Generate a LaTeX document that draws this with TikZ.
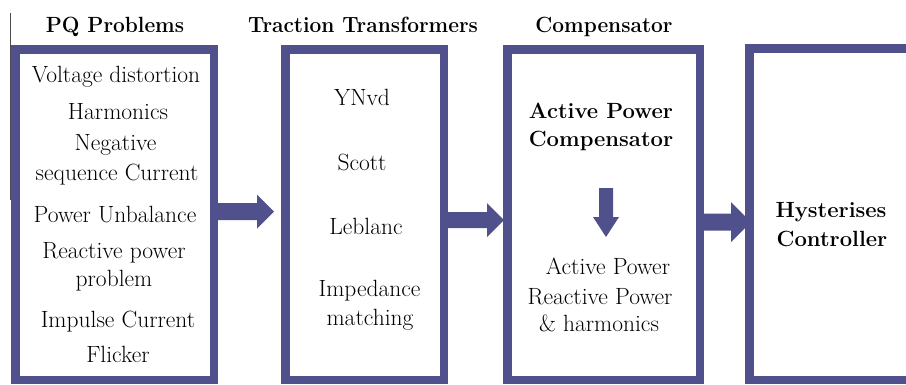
\documentclass[tikz,border=0pt]{standalone}
\usepackage{graphicx}
\usetikzlibrary{calc}
\definecolor{pqblue}{RGB}{80,80,140}
\newcommand{\bxs}[1]{\scalebox{0.95}[1]{#1}}
% #1 start anchor, #2 end anchor, #3 y, #4 shaft half, #5 head half, #6 head length, #7 tip offset
\newcommand{\fatarrow}[7]{%
  \fill[pqblue] let \p1=(#1 |- 0,#3), \p2=(#2) in
    (\x1,\y1+#4) -- (\x2+#7-#6,\y1+#4) -- (\x2+#7-#6,\y1+#5) -- (\x2+#7,\y1)
    -- (\x2+#7-#6,\y1-#5) -- (\x2+#7-#6,\y1-#4) -- (\x1,\y1-#4) -- cycle;}
\begin{document}
\begin{tikzpicture}[x=1pt,y=-1pt,
  blk/.style={draw=pqblue, line width=8.5pt, fill=white, rectangle, inner sep=0pt, outer sep=0pt},
  txt/.style={anchor=base, inner sep=0pt, font=\fontsize{23.5}{28}\selectfont},
  hdr/.style={anchor=base, inner sep=0pt, font=\fontsize{22}{26}\selectfont\bfseries}]
\useasboundingbox (0,0) rectangle (906,384);
\clip (0,0) rectangle (906,384);

% boxes
\node[blk, minimum width=198.5pt, minimum height=330.5pt] (b1) at (114.5,214.5) {};
\node[blk, minimum width=158.5pt, minimum height=330.5pt] (b2) at (364.5,214.5) {};
\node[blk, minimum width=192.5pt, minimum height=330.5pt] (b3) at (603.5,214.5) {};
\node[blk, minimum width=176.5pt, minimum height=331.5pt] (b4) at (837.5,214) {};

% thin line at left
\draw[gray!60!black, line width=0.9pt] (10.5,13) -- (10.5,200);

% titles
\node[hdr] (t1) at (115,32) {\bxs{PQ Problems}};
\node[hdr] (t2) at (363,32) {\bxs{Traction Transformers}};
\node[hdr] (t3) at (604,32) {\bxs{Compensator}};

% box 1 texts
\node[txt] (p1) at (116,82) {Voltage distortion};
\node[txt] (p2) at (118,119) {Harmonics};
\node[txt] (p3) at (115.5,150) {Negative};
\node[txt] (p4) at (117,180) {sequence Current};
\node[txt] (p5) at (115,222) {Power Unbalance};
\node[txt] (p6) at (114,258) {Reactive power};
\node[txt] (p7) at (114,286) {problem};
\node[txt] (p8) at (118,327) {Impulse Current};
\node[txt] (p9) at (118,362) {Flicker};

% box 2 texts
\node[txt] (q1) at (362,105) {YNvd};
\node[txt] (q2) at (362,170) {Scott};
\node[txt] (q3) at (366,234) {Leblanc};
\node[txt] (q4) at (369.5,296) {Impedance};
\node[txt] (q5) at (370,325) {matching};

% box 3 texts
\node[hdr] (c1) at (601,118) {Active Power};
\node[hdr] (c2) at (601,146) {Compensator};
\node[txt] (c3) at (608,274) {Active Power};
\node[txt] (c4) at (600,304) {Reactive Power};
\node[txt] (c5) at (599,331) {\& harmonics};

% box 4 texts
\node[hdr] (h1) at (831,217) {Hysterises};
\node[hdr] (h2) at (832,246) {Controller};

% arrows between boxes
\fatarrow{b1.east}{b2.west}{211.5}{8.5pt}{17pt}{17pt}{-11.25pt}
\fatarrow{b2.east}{b3.west}{220}{8pt}{17pt}{17pt}{-3.25pt}
\fatarrow{b3.east}{b4.west}{222}{8.5pt}{20pt}{20pt}{1.75pt}

% down arrow inside compensator
\coordinate (dtop) at (606,188);
\coordinate (dtip) at (606,237);
\fill[pqblue] let \p1=(dtop), \p2=(dtip) in
  (\x1-7pt,\y1) -- (\x1+7pt,\y1) -- (\x1+7pt,\y2+20pt) -- (\x1+13pt,\y2+20pt)
  -- (\x2,\y2) -- (\x1-13pt,\y2+20pt) -- (\x1-7pt,\y2+20pt) -- cycle;
\end{tikzpicture}
\end{document}
